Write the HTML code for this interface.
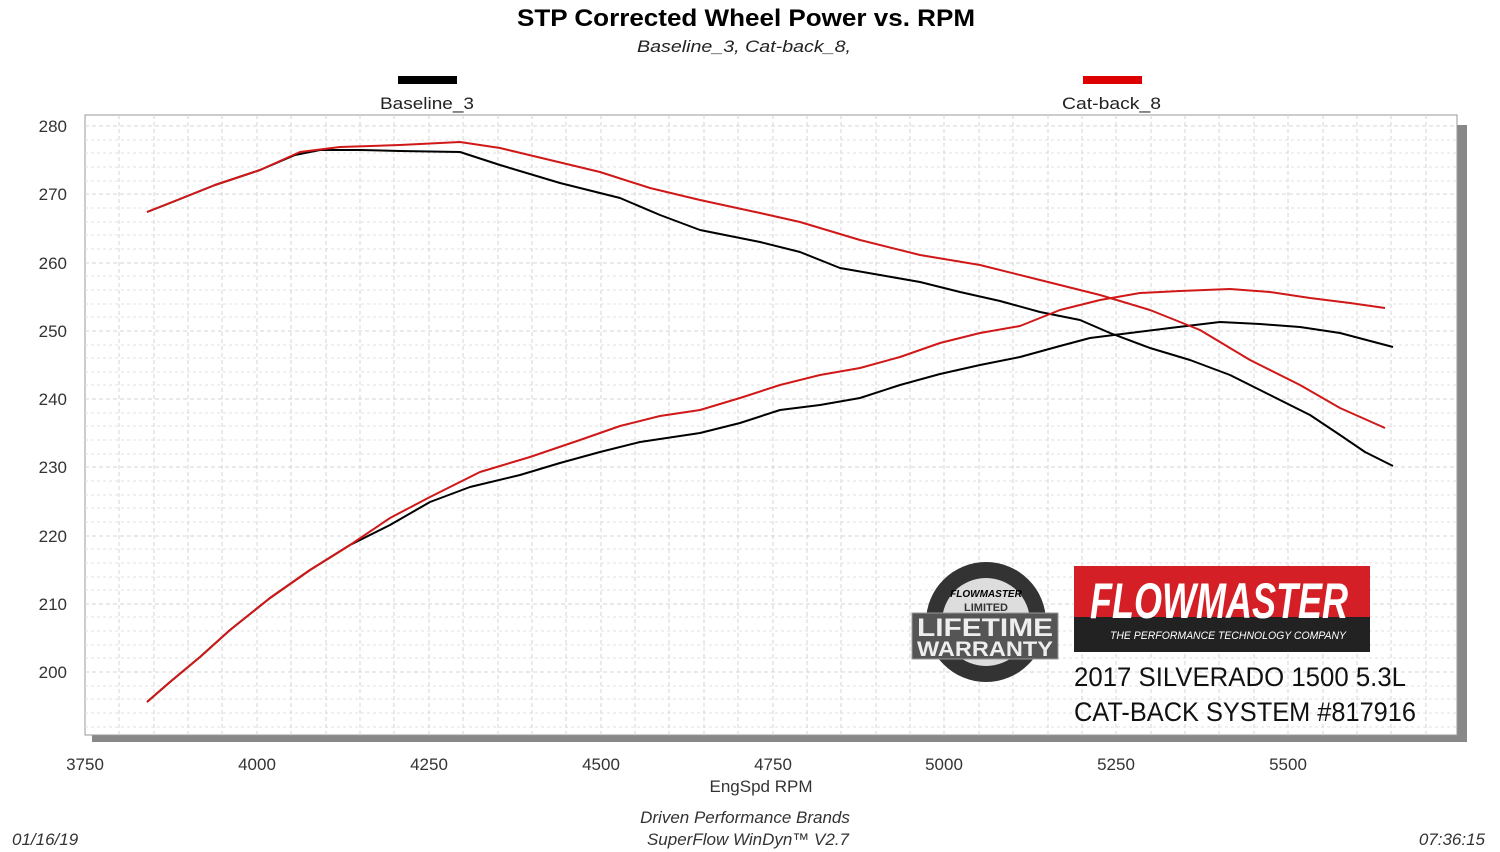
<!DOCTYPE html>
<html><head><meta charset="utf-8"><style>
body{margin:0;background:#fff;}
svg{display:block;font-family:"Liberation Sans",Arial,sans-serif;}
</style></head><body>
<svg width="1500" height="852" viewBox="0 0 1500 852">
<rect width="1500" height="852" fill="#fff"/>
<text x="517" y="26" font-size="24" font-weight="bold" textLength="458" lengthAdjust="spacingAndGlyphs">STP Corrected Wheel Power vs. RPM</text>
<text x="637" y="52" font-size="17" font-style="italic" fill="#222" textLength="214" lengthAdjust="spacingAndGlyphs">Baseline_3, Cat-back_8,</text>
<rect x="398" y="76" width="59" height="8" fill="#000"/>
<text x="380" y="109" font-size="17" fill="#222" textLength="94" lengthAdjust="spacingAndGlyphs">Baseline_3</text>
<rect x="1083" y="76" width="59" height="8" fill="#d00"/>
<text x="1062" y="109" font-size="17" fill="#222" textLength="99" lengthAdjust="spacingAndGlyphs">Cat-back_8</text>
<rect x="1457" y="125" width="10" height="617" fill="#888"/>
<rect x="92" y="735" width="1375" height="7" fill="#888"/>
<rect x="85" y="115" width="1372" height="620" fill="#fff" stroke="#999" stroke-width="1"/>
<g stroke="#e2e2e2" stroke-width="1" stroke-dasharray="3,3">
<line x1="85" y1="140" x2="1457" y2="140"/><line x1="85" y1="153" x2="1457" y2="153"/><line x1="85" y1="167" x2="1457" y2="167"/><line x1="85" y1="181" x2="1457" y2="181"/>
<line x1="85" y1="208" x2="1457" y2="208"/><line x1="85" y1="222" x2="1457" y2="222"/><line x1="85" y1="235" x2="1457" y2="235"/><line x1="85" y1="249" x2="1457" y2="249"/>
<line x1="85" y1="276" x2="1457" y2="276"/><line x1="85" y1="290" x2="1457" y2="290"/><line x1="85" y1="304" x2="1457" y2="304"/><line x1="85" y1="317" x2="1457" y2="317"/>
<line x1="85" y1="345" x2="1457" y2="345"/><line x1="85" y1="358" x2="1457" y2="358"/><line x1="85" y1="372" x2="1457" y2="372"/><line x1="85" y1="385" x2="1457" y2="385"/>
<line x1="85" y1="413" x2="1457" y2="413"/><line x1="85" y1="426" x2="1457" y2="426"/><line x1="85" y1="440" x2="1457" y2="440"/><line x1="85" y1="454" x2="1457" y2="454"/>
<line x1="85" y1="481" x2="1457" y2="481"/><line x1="85" y1="495" x2="1457" y2="495"/><line x1="85" y1="508" x2="1457" y2="508"/><line x1="85" y1="522" x2="1457" y2="522"/>
<line x1="85" y1="549" x2="1457" y2="549"/><line x1="85" y1="563" x2="1457" y2="563"/><line x1="85" y1="577" x2="1457" y2="577"/><line x1="85" y1="590" x2="1457" y2="590"/>
<line x1="85" y1="617" x2="1457" y2="617"/><line x1="85" y1="631" x2="1457" y2="631"/><line x1="85" y1="645" x2="1457" y2="645"/><line x1="85" y1="658" x2="1457" y2="658"/>
<line x1="85" y1="686" x2="1457" y2="686"/><line x1="85" y1="699" x2="1457" y2="699"/><line x1="85" y1="713" x2="1457" y2="713"/><line x1="85" y1="727" x2="1457" y2="727"/>
</g>
<g stroke="#d6d6d6" stroke-width="1" stroke-dasharray="4,3">
<line x1="119" y1="115" x2="119" y2="735"/><line x1="154" y1="115" x2="154" y2="735"/><line x1="188" y1="115" x2="188" y2="735"/><line x1="222" y1="115" x2="222" y2="735"/><line x1="257" y1="115" x2="257" y2="735"/><line x1="291" y1="115" x2="291" y2="735"/><line x1="326" y1="115" x2="326" y2="735"/><line x1="360" y1="115" x2="360" y2="735"/><line x1="394" y1="115" x2="394" y2="735"/><line x1="429" y1="115" x2="429" y2="735"/><line x1="463" y1="115" x2="463" y2="735"/><line x1="498" y1="115" x2="498" y2="735"/><line x1="532" y1="115" x2="532" y2="735"/><line x1="566" y1="115" x2="566" y2="735"/><line x1="601" y1="115" x2="601" y2="735"/><line x1="635" y1="115" x2="635" y2="735"/><line x1="669" y1="115" x2="669" y2="735"/><line x1="704" y1="115" x2="704" y2="735"/><line x1="738" y1="115" x2="738" y2="735"/><line x1="773" y1="115" x2="773" y2="735"/><line x1="807" y1="115" x2="807" y2="735"/><line x1="841" y1="115" x2="841" y2="735"/><line x1="876" y1="115" x2="876" y2="735"/><line x1="910" y1="115" x2="910" y2="735"/><line x1="944" y1="115" x2="944" y2="735"/><line x1="979" y1="115" x2="979" y2="735"/><line x1="1013" y1="115" x2="1013" y2="735"/><line x1="1048" y1="115" x2="1048" y2="735"/><line x1="1082" y1="115" x2="1082" y2="735"/><line x1="1116" y1="115" x2="1116" y2="735"/><line x1="1151" y1="115" x2="1151" y2="735"/><line x1="1185" y1="115" x2="1185" y2="735"/><line x1="1219" y1="115" x2="1219" y2="735"/><line x1="1254" y1="115" x2="1254" y2="735"/><line x1="1288" y1="115" x2="1288" y2="735"/><line x1="1323" y1="115" x2="1323" y2="735"/><line x1="1357" y1="115" x2="1357" y2="735"/><line x1="1391" y1="115" x2="1391" y2="735"/><line x1="1426" y1="115" x2="1426" y2="735"/>
<line x1="85" y1="126" x2="1457" y2="126"/><line x1="85" y1="194" x2="1457" y2="194"/><line x1="85" y1="263" x2="1457" y2="263"/><line x1="85" y1="331" x2="1457" y2="331"/><line x1="85" y1="399" x2="1457" y2="399"/><line x1="85" y1="467" x2="1457" y2="467"/><line x1="85" y1="536" x2="1457" y2="536"/><line x1="85" y1="604" x2="1457" y2="604"/><line x1="85" y1="672" x2="1457" y2="672"/>
</g>
<g font-size="17" fill="#333" text-anchor="end">
<text x="67" y="132">280</text><text x="67" y="200">270</text><text x="67" y="269">260</text><text x="67" y="337">250</text><text x="67" y="405">240</text><text x="67" y="473">230</text><text x="67" y="542">220</text><text x="67" y="610">210</text><text x="67" y="678">200</text>
</g>
<g font-size="17" fill="#333" text-anchor="middle">
<text x="85" y="770">3750</text><text x="257" y="770">4000</text><text x="429" y="770">4250</text><text x="601" y="770">4500</text><text x="773" y="770">4750</text><text x="944" y="770">5000</text><text x="1116" y="770">5250</text><text x="1288" y="770">5500</text>
<text x="761" y="792">EngSpd  RPM</text>
<text x="745" y="823" font-style="italic">Driven Performance Brands</text>
<text x="748" y="845" font-style="italic">SuperFlow WinDyn™  V2.7</text>
</g>
<text x="12" y="845" font-size="17" font-style="italic" fill="#333">01/16/19</text>
<text x="1485" y="845" font-size="17" font-style="italic" fill="#333" text-anchor="end">07:36:15</text>
<g fill="none" stroke-width="2" stroke-linejoin="round">
<polyline stroke="#000" points="147,212 165,205 185,197 215,185 260,170 295,155 320,150 360,150 400,151 460,152 500,165 560,183 620,198 660,215 700,230 760,242 800,252 840,268 880,275 920,282 960,292 1000,301 1040,312 1080,320 1110,333 1150,348 1190,360 1230,375 1270,395 1310,415 1340,435 1365,452 1393,466"/>
<polyline stroke="#000" points="147,702 170,682 200,657 230,630 270,598 310,570 350,545 390,525 430,502 470,487 520,475 560,463 600,452 640,442 700,433 740,423 780,410 820,405 860,398 900,385 940,374 980,365 1020,357 1060,346 1090,338 1130,333 1170,328 1220,322 1260,324 1300,327 1340,333 1393,347"/>
<polyline stroke="#d01818" points="147,212 185,197 215,185 260,170 300,152 340,147 400,145 460,142 500,148 550,160 600,172 650,188 700,200 760,213 800,222 860,240 920,255 980,265 1040,280 1100,295 1150,310 1200,330 1250,360 1300,385 1340,408 1385,428"/>
<polyline stroke="#d01818" points="147,702 170,682 200,657 230,630 270,598 310,570 350,545 390,518 430,497 480,472 530,457 580,440 620,426 660,416 700,410 740,398 780,385 820,375 860,368 900,357 940,343 980,333 1020,326 1060,310 1100,300 1140,293 1180,291 1230,289 1270,292 1310,298 1350,303 1385,308"/>
</g>
<circle cx="986" cy="622" r="60" fill="#333"/>
<circle cx="986" cy="622" r="44" fill="#ddd"/>
<text x="986" y="597" text-anchor="middle" font-size="10" font-style="italic" font-weight="bold">FLOWMASTER</text>
<text x="986" y="611" text-anchor="middle" font-size="11" font-weight="bold" fill="#333">LIMITED</text>
<rect x="912" y="613" width="146" height="46" fill="#555" stroke="#999"/>
<text x="917" y="636" font-size="25" font-weight="bold" fill="#eee" textLength="136" lengthAdjust="spacingAndGlyphs">LIFETIME</text>
<text x="917" y="656" font-size="21" font-weight="bold" fill="#eee" textLength="136" lengthAdjust="spacingAndGlyphs">WARRANTY</text>
<rect x="1074" y="566" width="296" height="86" fill="#222"/>
<rect x="1074" y="566" width="296" height="51" fill="#d41f26"/>
<text x="1090" y="618" font-size="50" font-weight="bold" font-style="italic" fill="#fff" textLength="258" lengthAdjust="spacingAndGlyphs">FLOWMASTER</text>
<text x="1110" y="639" font-size="11" font-style="italic" fill="#fff" textLength="236" lengthAdjust="spacingAndGlyphs">THE PERFORMANCE TECHNOLOGY COMPANY</text>
<text x="1074" y="686" font-size="27" fill="#111" textLength="332" lengthAdjust="spacingAndGlyphs">2017 SILVERADO 1500 5.3L</text>
<text x="1074" y="721" font-size="27" fill="#111" textLength="342" lengthAdjust="spacingAndGlyphs">CAT-BACK SYSTEM #817916</text>
</svg>
</body></html>
